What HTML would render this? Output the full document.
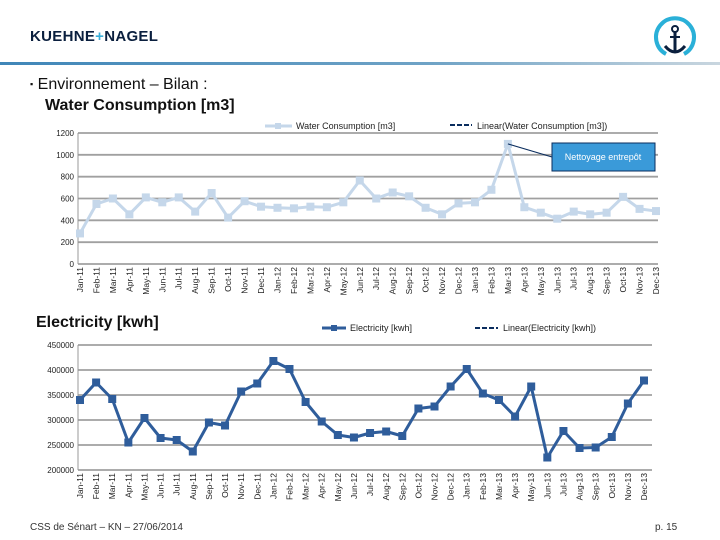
<!DOCTYPE html>
<html><head><meta charset="utf-8"><style>
body{margin:0;width:720px;height:540px;background:#fff;font-family:"Liberation Sans",sans-serif;position:relative;overflow:hidden}
.abs{position:absolute}
</style></head><body>
<div class="abs" style="left:30px;top:28px;font-size:15px;font-weight:bold;color:#0a1f3e;letter-spacing:0.3px">KUEHNE<span style="color:#3aaed8">+</span>NAGEL</div>
<svg class="abs" style="left:652px;top:16px" width="46" height="46"><path d="M14 38 A19 19 0 1 1 32 38" fill="none" stroke="#2ab0d8" stroke-width="4"/><circle cx="23" cy="13" r="3" fill="none" stroke="#0a1f3e" stroke-width="2"/><line x1="23" y1="16" x2="23" y2="36" stroke="#0a1f3e" stroke-width="3"/><line x1="18" y1="21" x2="28" y2="21" stroke="#0a1f3e" stroke-width="2"/><path d="M13 30 Q23 42 33 30" fill="none" stroke="#0a1f3e" stroke-width="3"/></svg>
<div class="abs" style="left:0;top:62px;width:720px;height:3px;background:linear-gradient(90deg,#3f86b8,#6fa3c6 60%,#c9d6df)"></div>
<div class="abs" style="left:30px;top:74px;font-size:16px;color:#111;line-height:21px"><span style="font-size:9px;vertical-align:2px">▪</span> Environnement – Bilan :<br><b style="margin-left:15px">Water Consumption [m3]</b></div>
<div class="abs" style="left:36px;top:314px;font-size:16px;font-weight:bold;color:#111">Electricity [kwh]</div>
<div class="abs" style="left:30px;top:522px;font-size:10px;color:#333">CSS de Sénart – KN – 27/06/2014</div>
<div class="abs" style="left:655px;top:522px;font-size:10px;color:#333">p. 15</div>
<svg id="c" class="abs" style="left:0;top:0" width="720" height="540" font-family="Liberation Sans"></svg>
<script>
const months=["Jan-11","Feb-11","Mar-11","Apr-11","May-11","Jun-11","Jul-11","Aug-11","Sep-11","Oct-11","Nov-11","Dec-11","Jan-12","Feb-12","Mar-12","Apr-12","May-12","Jun-12","Jul-12","Aug-12","Sep-12","Oct-12","Nov-12","Dec-12","Jan-13","Feb-13","Mar-13","Apr-13","May-13","Jun-13","Jul-13","Aug-13","Sep-13","Oct-13","Nov-13","Dec-13"];
const water=[280,550,600,455,610,565,610,480,650,425,575,525,515,510,525,520,565,765,600,655,620,515,455,555,565,680,1100,520,470,415,480,455,470,615,505,485];
const waterTicks=[0,200,400,600,800,1000,1200];
const elec=[340000,375000,342000,255000,304000,264000,260000,237000,295000,289000,357000,373000,418000,402000,336000,297000,270000,265000,274000,277000,268000,323000,327000,367000,402000,353000,340000,307000,367000,225000,278000,244000,245000,266000,333000,379000];
const elecTicks=[200000,250000,300000,350000,400000,450000];
const svg=document.getElementById('c');const NS='http://www.w3.org/2000/svg';
function mk(t,a,txt){const e=document.createElementNS(NS,t);for(const k in a)e.setAttribute(k,a[k]);if(txt!==undefined)e.textContent=txt;svg.appendChild(e);return e;}
function chart(o){
 const x=i=>o.x0+i*(o.x1-o.x0)/(months.length-1);
 const y=v=>o.yb-(v-o.vmin)/(o.vmax-o.vmin)*(o.yb-o.yt);
 o.ticks.forEach(t=>{const g=mk('line',{x1:o.ax,x2:o.ar,y1:y(t),y2:y(t),stroke:'#a0a0a0','stroke-width':1.8});
 
 const l=mk('text',{x:o.ax-4,y:y(t)+3,'text-anchor':'end','font-size':8,fill:'#222'},t);
 });
 mk('line',{x1:o.ax,x2:o.ax,y1:o.yt,y2:o.yb,stroke:'#999'});
 months.forEach((m,i)=>{const t=mk('text',{transform:`translate(${x(i)+3},${o.yb+3}) rotate(-90)`,'text-anchor':'end','font-size':8.5,fill:'#222'},m);
 });
 const p=mk('polyline',{points:o.data.map((v,i)=>x(i)+','+y(v)).join(' '),fill:'none',stroke:o.col,'stroke-width':3,'stroke-linejoin':'round'});
 
 o.data.forEach((v,i)=>{const r=mk('rect',{x:x(i)-4,y:y(v)-4,width:8,height:8,fill:o.col});
 });
 return {x,y};
}
const w=chart({id:'water',x0:80,x1:656,ax:78,ar:658,yt:133,yb:264,vmin:0,vmax:1200,ticks:waterTicks,data:water,col:'#c5d7ea'});
const e=chart({id:'electricity',x0:80,x1:644,ax:78,ar:652,yt:345,yb:470,vmin:200000,vmax:450000,ticks:elecTicks,data:elec,col:'#2f5d9b'});
mk('line',{x1:265,x2:292,y1:126,y2:126,stroke:'#c5d7ea','stroke-width':3});mk('rect',{x:275,y:123,width:6,height:6,fill:'#c5d7ea'});
mk('text',{x:296,y:129,'font-size':9,fill:'#222'},'Water Consumption [m3]');
mk('line',{x1:450,x2:472,y1:125,y2:125,stroke:'#0a2d5e','stroke-width':2,'stroke-dasharray':'5,2'});
mk('text',{x:477,y:129,'font-size':9,fill:'#222'},'Linear(Water Consumption [m3])');
mk('line',{x1:322,x2:346,y1:328,y2:328,stroke:'#2f5d9b','stroke-width':3});mk('rect',{x:331,y:325,width:6,height:6,fill:'#2f5d9b'});
mk('text',{x:350,y:331,'font-size':9,fill:'#222'},'Electricity [kwh]');
mk('line',{x1:475,x2:498,y1:328,y2:328,stroke:'#0a2d5e','stroke-width':2,'stroke-dasharray':'5,2'});
mk('text',{x:503,y:331,'font-size':9,fill:'#222'},'Linear(Electricity [kwh])');
mk('line',{x1:w.x(26),y1:w.y(1100),x2:552,y2:157,stroke:'#0a2d5e','stroke-width':1});
const ab=mk('rect',{x:552,y:143,width:103,height:28,fill:'#3a9ad9',stroke:'#0a2d5e'});

mk('text',{x:603,y:160,'text-anchor':'middle','font-size':9,fill:'#fff'},'Nettoyage entrepôt');
</script>
</body></html>
